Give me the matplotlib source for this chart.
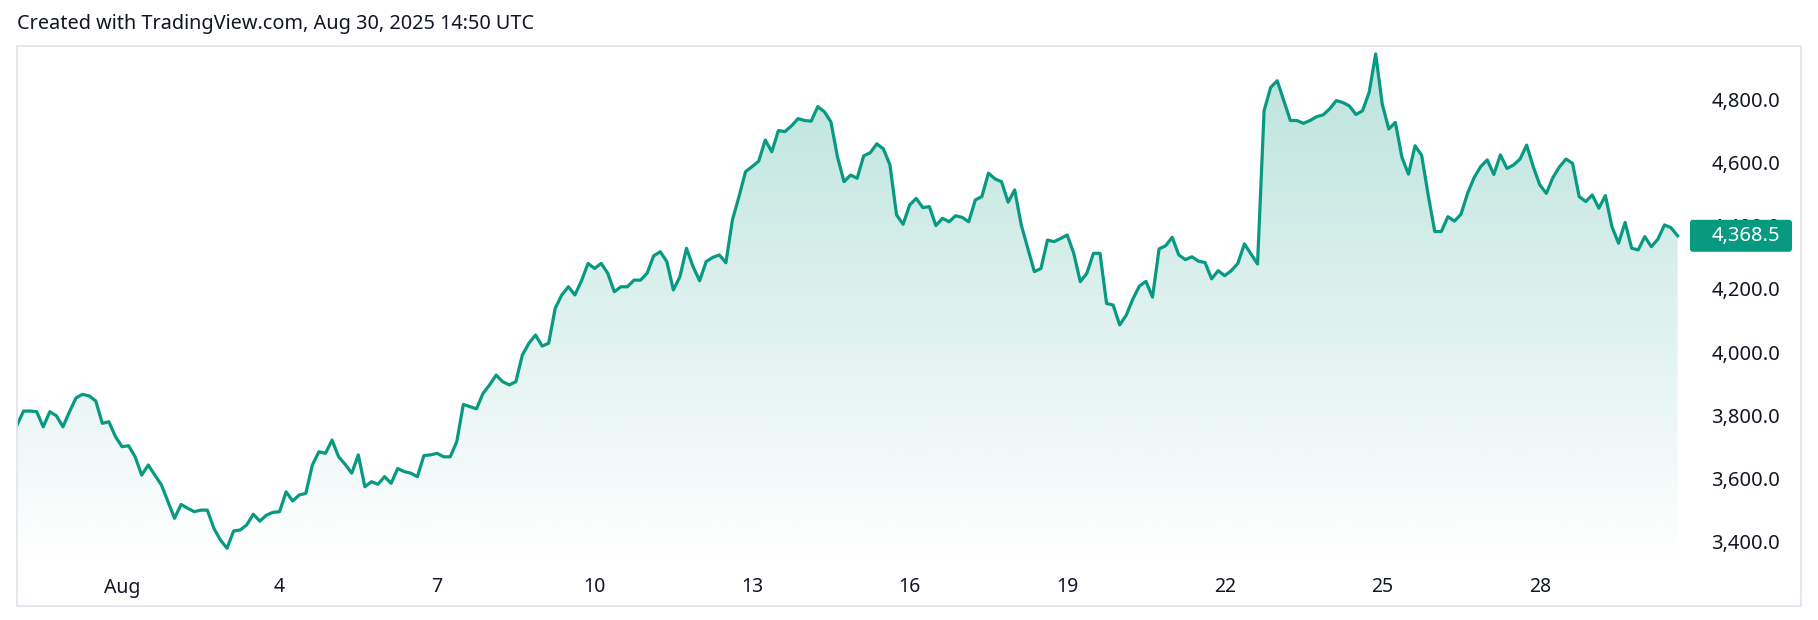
import numpy as np
import pandas as pd
import matplotlib
matplotlib.use("Agg")
import matplotlib.pyplot as plt
import matplotlib.transforms as mtransforms
from matplotlib.patches import Rectangle, FancyBboxPatch

# 3-hour closes, starting Jul 30 00:00 UTC
prices = [
    3769, 3813, 3813, 3811, 3763, 3811, 3798, 3763, 3811, 3855,
    3866, 3861, 3845, 3774, 3779, 3732, 3700, 3703, 3668, 3610,
    3642, 3610, 3579, 3526, 3473, 3517, 3505, 3494, 3499, 3499,
    3441, 3404, 3378, 3433, 3436, 3452, 3486, 3464, 3483, 3492,
    3494, 3557, 3528, 3547, 3552, 3642, 3684, 3679, 3721, 3668,
    3644, 3616, 3674, 3573, 3589, 3581, 3605, 3584, 3631, 3621,
    3616, 3605, 3672, 3674, 3679, 3668, 3668, 3716, 3834, 3827,
    3820, 3869, 3896, 3927, 3906, 3896, 3906, 3991, 4028, 4054,
    4019, 4028, 4139, 4181, 4207, 4181, 4226, 4281, 4265, 4281,
    4250, 4191, 4207, 4207, 4228, 4228, 4250, 4305, 4318, 4287,
    4197, 4239, 4329, 4271, 4226, 4287, 4300, 4308, 4283, 4419,
    4493, 4572, 4588, 4605, 4672, 4635, 4702, 4699, 4717, 4740,
    4734, 4732, 4778, 4762, 4730, 4619, 4540, 4561, 4551, 4622,
    4632, 4660, 4644, 4593, 4435, 4405, 4466, 4487, 4458, 4461,
    4401, 4424, 4413, 4432, 4427, 4413, 4482, 4493, 4567, 4549,
    4540, 4475, 4514, 4403, 4329, 4255, 4265, 4355, 4350, 4360,
    4371, 4313, 4223, 4250, 4313, 4313, 4154, 4149, 4086, 4117,
    4168, 4209, 4224, 4174, 4327, 4337, 4364, 4308, 4293, 4302,
    4288, 4284, 4232, 4258, 4242, 4258, 4281, 4343, 4311, 4279,
    4765, 4839, 4860, 4797, 4734, 4734, 4725, 4734, 4746, 4752,
    4771, 4797, 4791, 4780, 4753, 4765, 4823, 4945, 4786, 4707,
    4728, 4617, 4564, 4654, 4624, 4498, 4382, 4382, 4429, 4415,
    4437, 4503, 4553, 4588, 4609, 4563, 4625, 4582, 4593, 4612,
    4656, 4588, 4530, 4503, 4553, 4587, 4612, 4598, 4493, 4477,
    4498, 4456, 4496, 4397, 4345, 4411, 4329, 4324, 4366, 4334,
    4358, 4403, 4394, 4368.5,
]
start = "2025-07-30 00:00"
tick_days = ["2025-08-01", "2025-08-04", "2025-08-07", "2025-08-10", "2025-08-13",
             "2025-08-16", "2025-08-19", "2025-08-22", "2025-08-25", "2025-08-28"]
tick_labels = ["Aug", "4", "7", "10", "13", "16", "19", "22", "25", "28"]
price_ticks = [3400, 3600, 3800, 4000, 4200, 4400, 4600, 4800]
title = "Created with TradingView.com, Aug 30, 2025 14:50 UTC"

LINE = "#089981"
TXT = "#131722"
W, H = 1818, 620

plt.rcParams['font.family'] = ['Noto Sans', 'DejaVu Sans']

times = pd.date_range(start, periods=len(prices), freq="3h")
last_price = prices[-1]

fig = plt.figure(figsize=(W / 100, H / 100), dpi=100)
fig.patch.set_facecolor("white")

# outer frame
fig.add_artist(Rectangle((17 / W, 1 - 606 / H), (1801 - 17) / W, (606 - 46) / H,
                         transform=fig.transFigure, fill=False, ec="#e0e3eb", lw=1.2))
fig.text(17 / W, 1 - 24 / H, title, ha="left", va="center", fontsize=14.3, color=TXT)

ax = fig.add_axes([17 / W, 1 - 565 / H, (1690 - 17) / W, (565 - 47) / H])
ax.set_facecolor("none")
for s in ax.spines.values():
    s.set_visible(False)

ax.set_xlim(pd.Timestamp("2025-07-30 00:00"), pd.Timestamp("2025-08-30 20:40"))
ax.set_ylim(3325, 4967)

# gradient area under the line
poly = ax.fill_between(times, prices, 3325, facecolor="none", edgecolor="none")
alpha = np.linspace(0.28, 0.0, 256)
grad = np.zeros((256, 1, 4))
grad[..., 0] = 8 / 255
grad[..., 1] = 153 / 255
grad[..., 2] = 129 / 255
grad[:, 0, 3] = alpha
x0, x1 = ax.get_xlim()
y0, y1 = ax.get_ylim()
im = ax.imshow(grad, extent=[x0, x1, y0, y1], aspect="auto", origin="upper", zorder=1)
im.set_clip_path(poly.get_paths()[0], transform=ax.transData)
ax.set_xlim(x0, x1)
ax.set_ylim(y0, y1)

ax.plot(times, prices, color=LINE, lw=2.3, zorder=2, solid_joinstyle="round")

# axes
ax.set_xticks(pd.to_datetime(tick_days))
ax.set_xticklabels(tick_labels)
ax.tick_params(axis="x", length=0, pad=9, labelsize=14, labelcolor=TXT)
for lbl in ax.get_xticklabels():
    lbl.set_family(["Liberation Sans Narrow", "Noto Sans"])

ax.yaxis.tick_right()
ax.set_yticks(price_ticks)
ax.set_yticklabels([f"{v:,.1f}" for v in price_ticks])
ax.tick_params(axis="y", length=0, pad=(1780 - 1690) * 0.72, labelsize=14.5, labelcolor=TXT)
for lbl in ax.get_yticklabels():
    lbl.set_horizontalalignment("right")

# last price tag
fig.canvas.draw()
_, yc = ax.transData.transform((x1, last_price))
box = FancyBboxPatch((1690, yc - 16), 102, 32, boxstyle="round,pad=0,rounding_size=3",
                     transform=mtransforms.IdentityTransform(), fc=LINE, ec="none", zorder=5)
fig.add_artist(box)
fig.text(1780, yc, f"{last_price:,.1f}", transform=mtransforms.IdentityTransform(),
         ha="right", va="center", color="white", fontsize=14.5, zorder=6)

fig.savefig("out.png", dpi=100, facecolor="white")
